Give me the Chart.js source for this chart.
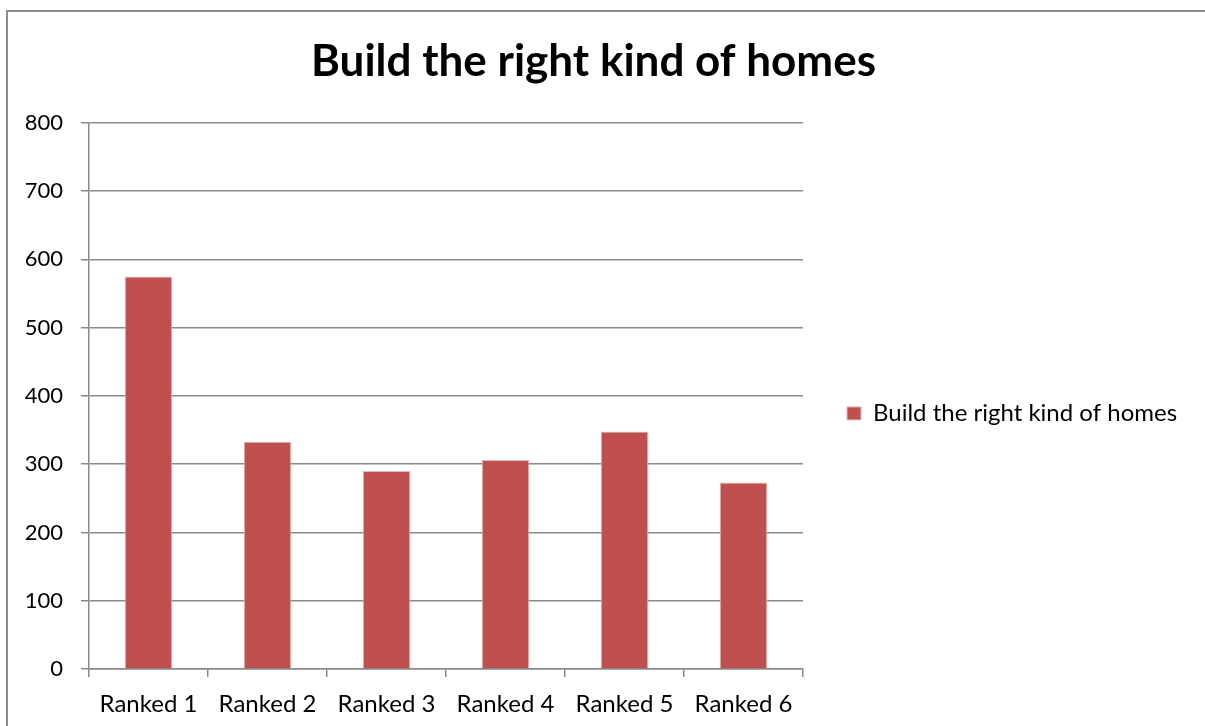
<!DOCTYPE html>
<html>
<head>
<meta charset="utf-8">
<script src="https://cdn.jsdelivr.net/npm/chart.js@4/dist/chart.umd.min.js"></script>
<style>
  html, body { margin: 0; padding: 0; background: #ffffff; }
  #wrap { position: relative; width: 1205px; height: 726px; }
</style>
</head>
<body>
<div id="wrap"><canvas id="chart" width="1205" height="726"></canvas></div>
<script>
// Chart data
const categories = ['Ranked 1', 'Ranked 2', 'Ranked 3', 'Ranked 4', 'Ranked 5', 'Ranked 6'];
const seriesName = 'Build the right kind of homes';
const seriesValues = [575, 333, 290, 306, 348, 273];
const yTicks = [0, 100, 200, 300, 400, 500, 600, 700, 800];

const FONT = 'Lato, "Open Sans", sans-serif';
const GRID = '#8a8a8a';
const PLOT_RIGHT = 803;

// Outer frame: left and top edges of the chart object
const framePlugin = {
  id: 'frame',
  beforeDraw(chart) {
    const ctx = chart.ctx;
    ctx.save();
    ctx.fillStyle = '#ffffff';
    ctx.fillRect(0, 0, chart.width, chart.height);
    ctx.strokeStyle = '#8c8c8c';
    ctx.lineWidth = 2;
    ctx.beginPath();
    ctx.moveTo(7, chart.height);
    ctx.lineTo(7, 11);
    ctx.lineTo(chart.width, 11);
    ctx.stroke();
    ctx.restore();
  }
};

const chart = new Chart(document.getElementById('chart'), {
  type: 'bar',
  data: {
    labels: categories,
    datasets: [{
      label: seriesName,
      data: seriesValues,
      backgroundColor: '#C0504D',
      borderColor: '#E6B9B8',
      borderWidth: 1,
      categoryPercentage: 0.4,
      barPercentage: 1.0
    }]
  },
  options: {
    responsive: false,
    animation: false,
    layout: { padding: { top: 0, right: 0, bottom: 0, left: 0 } },
    plugins: {
      title: {
        display: true,
        text: seriesName,
        color: '#000000',
        font: { family: FONT, size: 44, weight: 'bold' },
        padding: { top: 35, bottom: 35 }
      },
      legend: {
        display: true,
        position: 'right',
        fullSize: false,
        maxWidth: 500,
        title: {
          display: true,
          text: '',
          font: { family: FONT, size: 10, lineHeight: 1.2 },
          padding: { top: 23, bottom: 0 }
        },
        labels: {
          color: '#000000',
          font: { family: FONT, size: 24 },
          boxWidth: 14,
          boxHeight: 13,
          padding: 44
        }
      },
      tooltip: { enabled: false }
    },
    scales: {
      x: {
        grid: {
          drawOnChartArea: false,
          drawTicks: true,
          tickLength: 8,
          color: GRID,
          lineWidth: 1.5
        },
        border: { display: true, color: GRID, width: 1.5 },
        ticks: {
          color: '#000000',
          font: { family: FONT, size: 24 },
          padding: 13,
          maxRotation: 0
        },
        afterFit(scale) { scale.height = 57; }
      },
      y: {
        min: 0,
        max: 800,
        afterBuildTicks(scale) { scale.ticks = yTicks.map(v => ({ value: v })); },
        grid: {
          color: GRID,
          lineWidth: 1.5,
          drawTicks: true,
          tickLength: 8
        },
        border: { display: true, color: GRID, width: 1.5 },
        ticks: {
          color: '#000000',
          font: { family: FONT, size: 22 },
          padding: 18
        },
        afterFit(scale) { scale.width = 89; }
      }
    }
  },
  plugins: [framePlugin]
});

// Leave the legend column its measured width and end the plot at PLOT_RIGHT
const dx = chart.chartArea.right - PLOT_RIGHT;
chart.options.layout.padding.right = Math.max(0, dx);
chart.update();
</script>
</body>
</html>
